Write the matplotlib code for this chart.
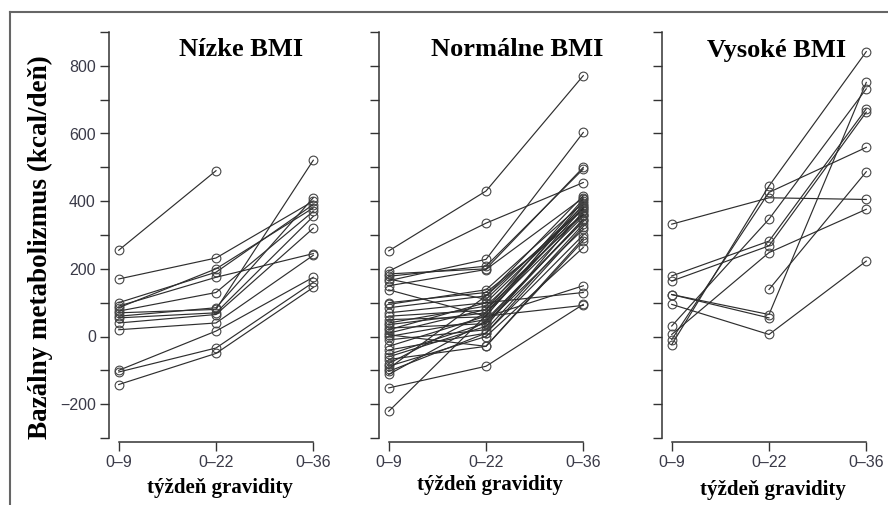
import numpy as np
import matplotlib.pyplot as plt
from matplotlib.lines import Line2D
from matplotlib.ticker import MultipleLocator, FuncFormatter

nan = np.nan

# casove body (tyzden gravidity)
weeks = ['0–9', '0–22', '0–36']
panel_titles = ['Nízke BMI', 'Normálne BMI', 'Vysoké BMI']

# Nizke BMI - hodnoty pre jednotlive zeny
nizke_09 = [255, 170, 100, 90, 85, 75, 70, 60, 55, 40, 20, -100, -105, -142]
nizke_22 = [490, 232, 190, 175, 200, 130, 80, 85, 70, 65, 40, 16, -34, -50]
nizke_36 = [nan, 400, 390, 245, 380, 370, 521, 410, 355, 320, 240, 175, 160, 145]

# Normalne BMI
normal_09 = [253, 193, 165, 185, 178, 150, 138, 170, 95, 85, 70, 60, 50, 40, 35, 25, 20,
             10, 0, -10, -29, -40, -53, -60, -68, -80, -88, -95, -103, -112, -152, -221,
             5, 100]
normal_22 = [430, 335, 228, 200, 208, 198, 60, 110, 138, 120, 100, 78, 58, 90, 70, 38, 100,
             80, 50, 20, 60, 10, 40, 30, -29, 70, 0, 120, 10, 45, -88, 62,
             -29, 130]
normal_36 = [771, 455, 603, 500, 495, 410, 400, 385, 395, 416, 380, 366, 150, 360, 355, 347, 130,
             406, 340, 332, 92, 325, 317, 370, 283, 390, 263, 375, 300, 345, 95, 380,
             290, 360]

# Vysoke BMI
vysoke_09 = [332, 179, 164, 124, 95, 31, -9, -24, 6, nan, 124]
vysoke_22 = [410, 282, 268, 65, 6, 347, 426, 445, 248, 139, 55]
vysoke_36 = [405, 673, 663, 751, 223, 732, 559, 842, 376, 487, nan]

panels = [(nizke_09, nizke_22, nizke_36),
          (normal_09, normal_22, normal_36),
          (vysoke_09, vysoke_22, vysoke_36)]

W, H = 888, 505
fig = plt.figure(figsize=(W / 100, H / 100), dpi=100)

serif = 'Liberation Serif'
sans = 'Liberation Sans'
tick_col = '#3a3a48'

lefts = [109, 379, 662]
title_x = [241, 517, 777]
xlabel_y = [488, 485, 490]
x = np.arange(1, 4)

for i, (d09, d22, d36) in enumerate(panels):
    left = lefts[i]
    ax = fig.add_axes([left / W, 1 - 438 / H, 214 / W, (438 - 32) / H])
    for a, b, c in zip(d09, d22, d36):
        ax.plot(x, [a, b, c], '-o', color='#2e2e2e', lw=0.85, ms=6.3,
                mfc='none', mec='#454545', mew=0.8, clip_on=False)
    ax.set_xlim(0.9, 3.1)
    ax.set_ylim(-300, 900)
    for s in ['top', 'right']:
        ax.spines[s].set_visible(False)
    ax.spines['left'].set_bounds(-300, 900)
    ax.spines['bottom'].set_bounds(1, 3)
    ax.spines['bottom'].set_position(('outward', 3))
    for s in ['left', 'bottom']:
        ax.spines[s].set_linewidth(1.1)
        ax.spines[s].set_color('#333333')
    ax.set_xticks(x)
    ax.set_xticklabels(weeks, fontfamily=sans, fontsize=11.5, color=tick_col)
    ax.yaxis.set_major_locator(MultipleLocator(100))
    if i == 0:
        ax.yaxis.set_major_formatter(FuncFormatter(
            lambda v, p: (f'{int(v)}'.replace('-', '−') if int(round(v)) % 200 == 0 else '')))
        for lab in ax.get_yticklabels():
            lab.set_fontfamily(sans)
        ax.tick_params(axis='y', labelsize=11.5, labelcolor=tick_col)
    else:
        ax.set_yticklabels([])
    ax.tick_params(direction='out', length=6.5, width=1.0, color='#333333', pad=3)
    fig.text(title_x[i] / W, 1 - 50 / H, panel_titles[i], ha='center', va='center',
             fontfamily=serif, fontweight='bold', fontsize=19)
    fig.text((left + 111) / W, 1 - xlabel_y[i] / H, 'týždeň gravidity', ha='center',
             va='center', fontfamily=serif, fontweight='bold', fontsize=15)

fig.text(40 / W, 1 - 247 / H, 'Bazálny metabolizmus (kcal/deň)', rotation=90,
         ha='center', va='center', fontfamily=serif, fontweight='bold', fontsize=19.5)

# ramik okolo obrazku
fig.add_artist(Line2D([10 / W, 1], [1 - 12 / H, 1 - 12 / H], transform=fig.transFigure,
                      color='#666666', lw=1.5))
fig.add_artist(Line2D([10 / W, 10 / W], [0, 1 - 12 / H], transform=fig.transFigure,
                      color='#666666', lw=1.5))

fig.savefig('out.png', dpi=100)
